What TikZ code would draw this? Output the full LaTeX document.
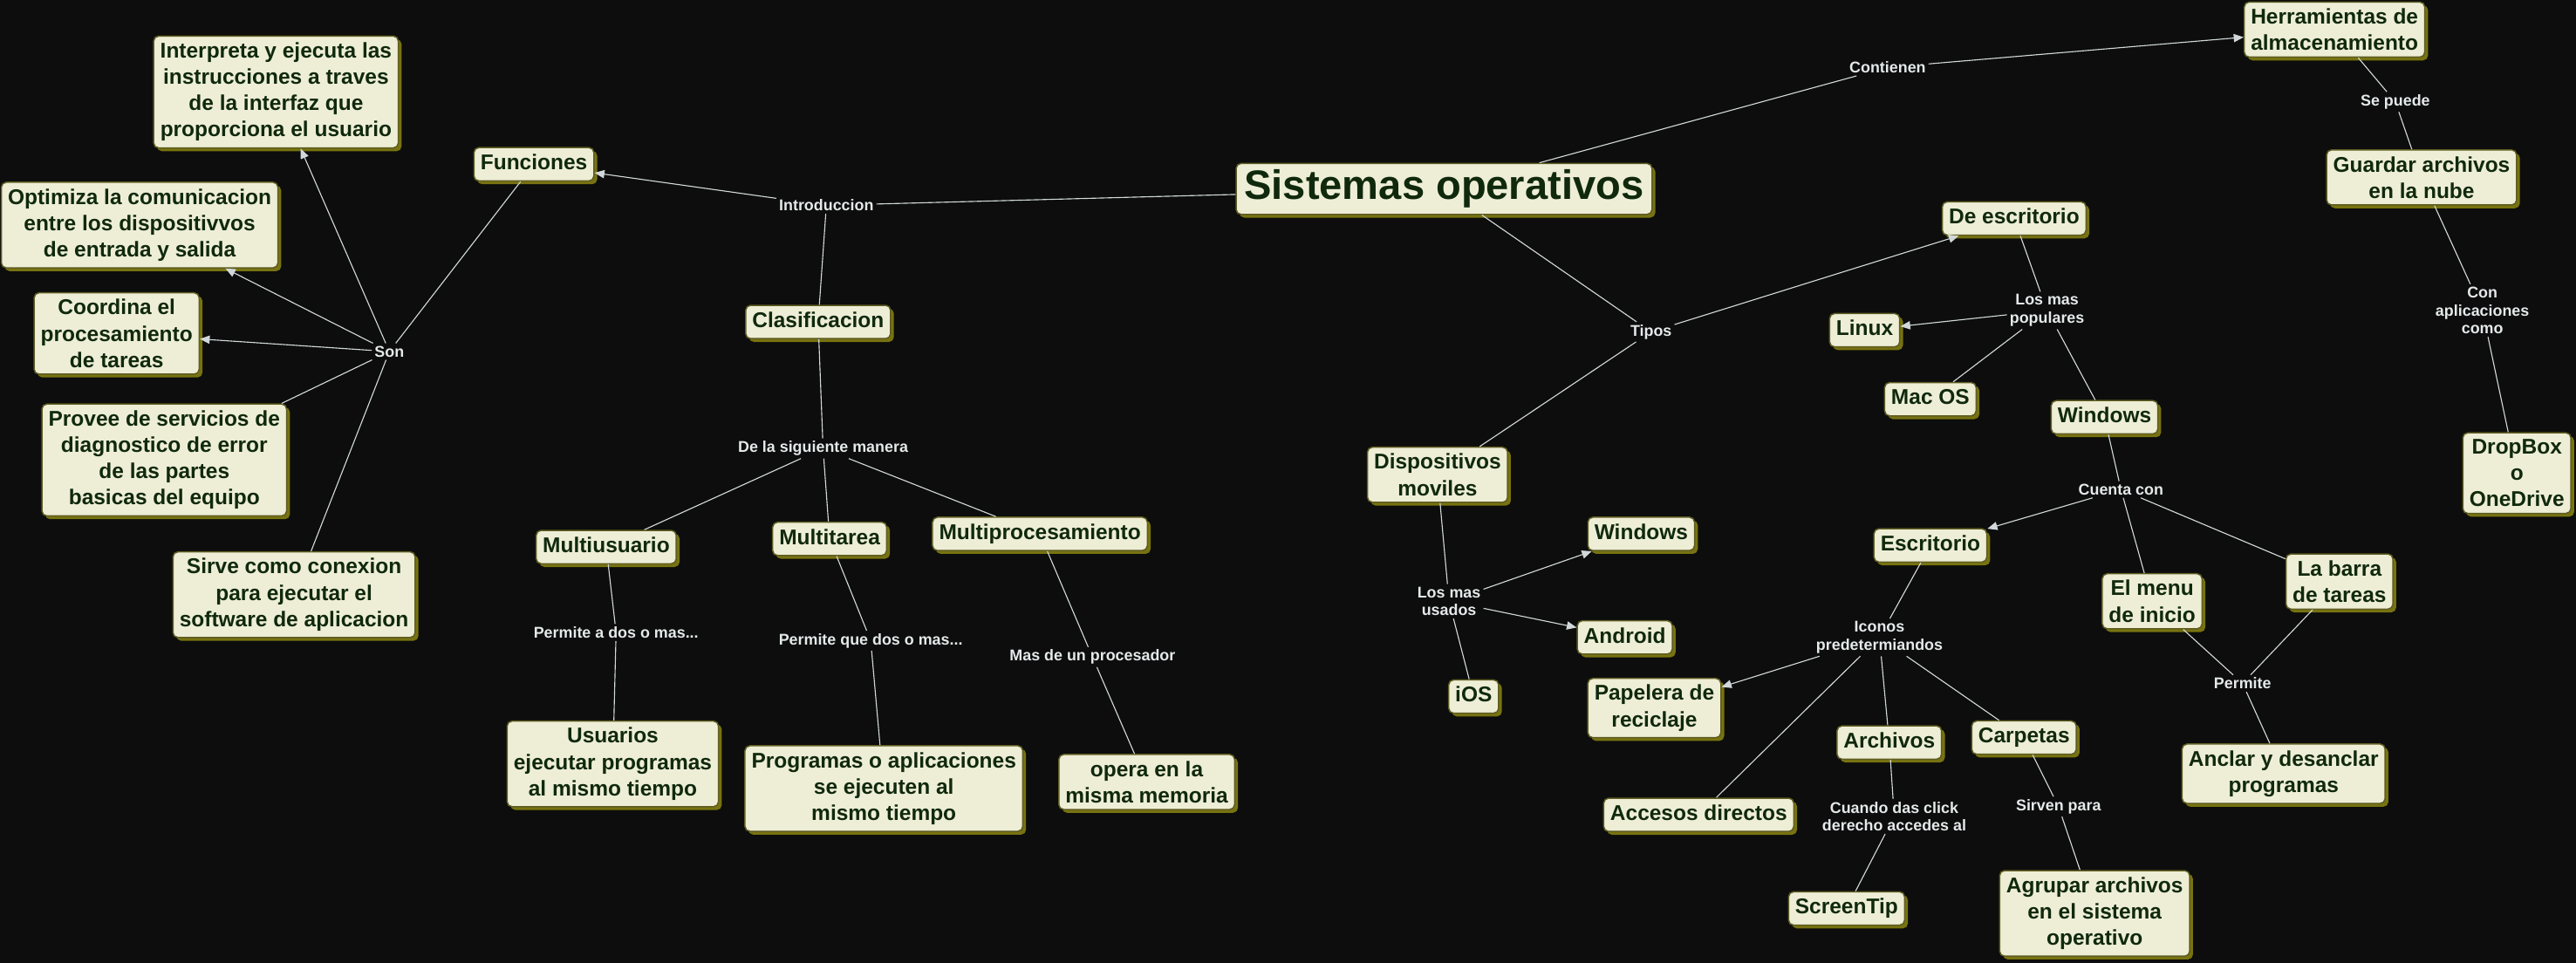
\documentclass[tikz,border=0pt]{standalone}
\usepackage{fontspec}
\setmainfont{Liberation Sans}
\usetikzlibrary{arrows.meta,shadows}
\definecolor{bgdark}{HTML}{0C0D0C}
\definecolor{boxfill}{HTML}{EEEED6}
\definecolor{boxedge}{HTML}{5E5C22}
\definecolor{boxshade}{HTML}{787310}
\definecolor{boxtext}{HTML}{10290D}
\definecolor{linkline}{HTML}{D2D8DA}
\definecolor{linktext}{HTML}{E4E9EA}

\begin{document}
\begin{tikzpicture}[x=1pt, y=-1pt,
  concept/.style={rectangle, rounded corners=3pt, draw=boxedge, line width=0.8pt,
    fill=boxfill, text=boxtext, align=center, inner xsep=4pt, inner ysep=4pt,
    font=\bfseries\fontsize{13}{16}\selectfont,
    drop shadow={shadow xshift=2pt, shadow yshift=-2pt, fill=boxshade, opacity=1}},
  shortbox/.style={concept, text height=9.5pt, text depth=2.8pt},
  mainbox/.style={concept, font=\bfseries\fontsize{25}{30}\selectfont,
    inner xsep=5pt, inner ysep=4pt, text height=18pt, text depth=5pt},
  phrase/.style={text=linktext, align=center, inner sep=1.5pt,
    font=\bfseries\fontsize{9.5}{11}\selectfont},
  link/.style={draw=linkline, line width=0.6pt},
  linkto/.style={link, -{Triangle[length=6pt, width=5pt]}}
]
\fill[bgdark] (0,0) rectangle (1568,586);
\useasboundingbox (0,0) rectangle (1568,586);

\node[mainbox] (sistemas) at (879,115) {Sistemas operativos};

\node[phrase] (introduccion) at (503,125) {Introduccion};
\node[shortbox] (funciones) at (325,100) {Funciones};
\node[shortbox] (clasificacion) at (498,196) {Clasificacion};

\node[phrase] (son) at (237,214) {Son};
\node[concept] (interpreta) at (168,56) {Interpreta y ejecuta las\\instrucciones a traves\\de la interfaz que\\proporciona el usuario};
\node[concept] (optimiza) at (85,137) {Optimiza la comunicacion\\entre los dispositivvos\\de entrada y salida};
\node[concept] (coordina) at (71,203) {Coordina el\\procesamiento\\de tareas};
\node[concept] (provee) at (100,280) {Provee de servicios de\\diagnostico de error\\de las partes\\basicas del equipo};
\node[concept] (sirve) at (179,362) {Sirve como conexion\\para ejecutar el\\software de aplicacion};

\node[phrase] (manera) at (501,273) {De la siguiente manera};
\node[shortbox] (multiusuario) at (369,333) {Multiusuario};
\node[shortbox] (multitarea) at (505,328) {Multitarea};
\node[shortbox] (multiproc) at (633,325) {Multiprocesamiento};
\node[phrase] (permitedos) at (375,385) {Permite a dos o mas...};
\node[phrase] (permiteque) at (530,390) {Permite que dos o mas...};
\node[phrase] (procesador) at (665,400) {Mas de un procesador};
\node[concept] (usuarios) at (373,465) {Usuarios\\ejecutar programas\\al mismo tiempo};
\node[concept] (programas) at (538,480) {Programas o aplicaciones\\se ejecuten al\\mismo tiempo};
\node[concept] (opera) at (698,476) {opera en la\\misma memoria};

\node[phrase] (contienen) at (1149,41) {Contienen};
\node[concept] (herramientas) at (1421,18) {Herramientas de\\almacenamiento};
\node[phrase] (sepuede) at (1458,62) {Se puede};
\node[concept] (guardar) at (1474,108) {Guardar archivos\\en la nube};
\node[phrase] (conapp) at (1511,189) {Con\\aplicaciones\\como};
\node[concept] (dropbox) at (1532,288) {DropBox\\o\\OneDrive};

\node[phrase] (tipos) at (1005,202) {Tipos};
\node[shortbox] (deescritorio) at (1226,133) {De escritorio};
\node[phrase] (populares) at (1246,189) {Los mas\\populares};
\node[shortbox] (linux) at (1135,201) {Linux};
\node[shortbox] (macos) at (1175,243) {Mac OS};
\node[shortbox] (windows) at (1281,254) {Windows};
\node[phrase] (cuenta) at (1291,298) {Cuenta con};
\node[shortbox] (escritorio) at (1175,332) {Escritorio};
\node[concept] (menu) at (1310,366) {El menu\\de inicio};
\node[concept] (barra) at (1424,354) {La barra\\de tareas};
\node[phrase] (permite) at (1365,416) {Permite};
\node[concept] (anclar) at (1390,471) {Anclar y desanclar\\programas};
\node[phrase] (iconos) at (1144,388) {Iconos\\predetermiandos};
\node[concept] (papelera) at (1007,431) {Papelera de\\reciclaje};
\node[shortbox] (accesos) at (1034,496) {Accesos directos};
\node[shortbox] (archivos) at (1150,452) {Archivos};
\node[shortbox] (carpetas) at (1232,449) {Carpetas};
\node[phrase] (click) at (1153,497) {Cuando das click\\derecho accedes al};
\node[shortbox] (screentip) at (1124,553) {ScreenTip};
\node[phrase] (sirven) at (1253,491) {Sirven para};
\node[concept] (agrupar) at (1275,556) {Agrupar archivos\\en el sistema\\operativo};

\node[concept] (moviles) at (875,289) {Dispositivos\\moviles};
\node[phrase] (usados) at (882,366) {Los mas\\usados};
\node[shortbox] (winmovil) at (999,325) {Windows};
\node[shortbox] (android) at (989,388) {Android};
\node[shortbox] (ios) at (897,424) {iOS};

\draw[link] (sistemas) -- (introduccion);
\draw[linkto] (introduccion) -- (funciones);
\draw[link] (introduccion) -- (clasificacion);
\draw[link] (funciones) -- (son);
\draw[linkto] (son) -- (interpreta);
\draw[linkto] (son) -- (optimiza);
\draw[linkto] (son) -- (coordina);
\draw[link] (son) -- (provee);
\draw[link] (son) -- (sirve);
\draw[link] (clasificacion) -- (manera);
\draw[link] (manera) -- (multiusuario);
\draw[link] (manera) -- (multitarea);
\draw[link] (manera) -- (multiproc);
\draw[link] (multiusuario) -- (permitedos) -- (usuarios);
\draw[link] (multitarea) -- (permiteque) -- (programas);
\draw[link] (multiproc) -- (procesador) -- (opera);
\draw[link] (sistemas) -- (contienen);
\draw[linkto] (contienen) -- (herramientas);
\draw[link] (herramientas) -- (sepuede) -- (guardar);
\draw[link] (guardar) -- (conapp) -- (dropbox);
\draw[link] (sistemas) -- (tipos);
\draw[linkto] (tipos) -- (deescritorio);
\draw[link] (tipos) -- (moviles);
\draw[link] (deescritorio) -- (populares);
\draw[linkto] (populares) -- (linux);
\draw[link] (populares) -- (macos);
\draw[link] (populares) -- (windows);
\draw[link] (windows) -- (cuenta);
\draw[linkto] (cuenta) -- (escritorio);
\draw[link] (cuenta) -- (menu);
\draw[link] (cuenta) -- (barra);
\draw[link] (menu) -- (permite);
\draw[link] (barra) -- (permite);
\draw[link] (permite) -- (anclar);
\draw[link] (escritorio) -- (iconos);
\draw[linkto] (iconos) -- (papelera);
\draw[link] (iconos) -- (accesos);
\draw[link] (iconos) -- (archivos);
\draw[link] (iconos) -- (carpetas);
\draw[link] (archivos) -- (click) -- (screentip);
\draw[link] (carpetas) -- (sirven) -- (agrupar);
\draw[link] (moviles) -- (usados);
\draw[linkto] (usados) -- (winmovil);
\draw[linkto] (usados) -- (android);
\draw[link] (usados) -- (ios);
\end{tikzpicture}
\end{document}
